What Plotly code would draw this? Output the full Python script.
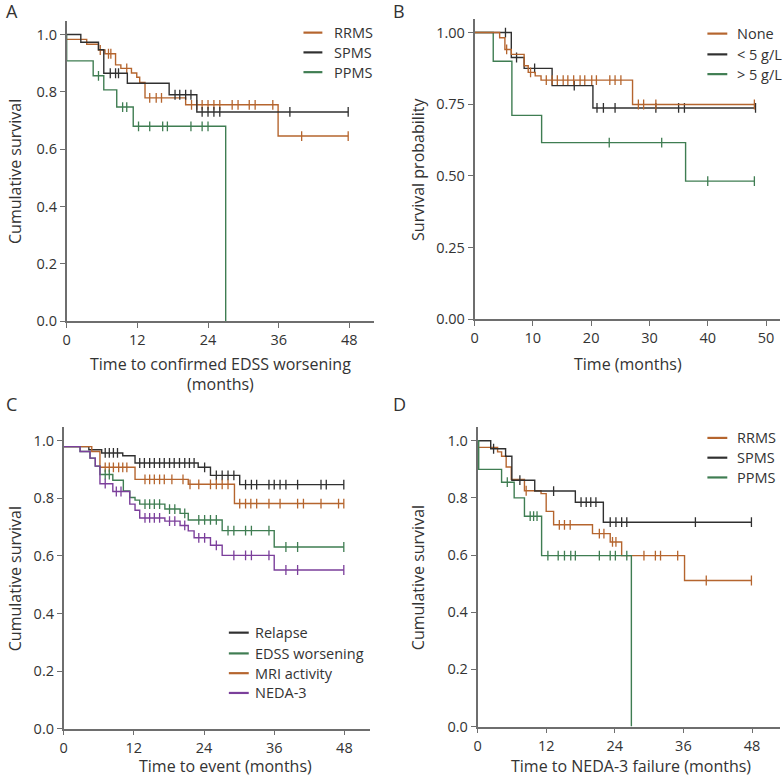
import plotly.graph_objects as go

FONT = "Open Sans"
TXT = "#333333"
AXC = "#6e6e6e"
C_BROWN = "#b5652e"
C_BLACK = "#303030"
C_GREEN = "#3f7d52"
C_PURPLE = "#7b3f9b"

# ---------------- Panel A: time to confirmed EDSS worsening ----------------
A_RRMS_t = [0, 3.4, 5.4, 6.5, 8.3, 9.2, 11.0, 11.9, 12.4, 13.3, 20.2, 35.9]
A_RRMS_s = [0.983, 0.966, 0.946, 0.933, 0.894, 0.882, 0.866, 0.851, 0.833, 0.779, 0.755, 0.646]
A_RRMS_c = [5.7, 7.1, 7.5, 10.2, 14.1, 15.2, 16.1, 21.2, 22.1, 23.0, 24.0, 25.0, 26.0, 28.1, 29.1, 31.0, 32.0, 35.0, 39.9]
A_RRMS_end = 47.8

A_SPMS_t = [0, 2.4, 5.4, 6.3, 10.3, 17.4, 22.1]
A_SPMS_s = [1.0, 0.973, 0.947, 0.865, 0.83, 0.79, 0.73]
A_SPMS_c = [7.4, 8.3, 8.8, 18.4, 19.2, 20.2, 21.1, 23.0, 24.0, 25.0, 26.0, 37.9]
A_SPMS_end = 47.8

A_PPMS_t = [0, 0, 4.5, 6.3, 8.5, 11.3, 27.0]
A_PPMS_s = [1.0, 0.908, 0.856, 0.807, 0.747, 0.68, 0.0]
A_PPMS_c = [5.4, 9.5, 10.2, 12.2, 14.1, 16.3, 17.1, 21.1, 23.0, 24.0]
A_PPMS_end = None

# ---------------- Panel B: IgG groups ----------------
B_NONE_t = [0, 4.3, 5.2, 6.3, 8.5, 9.2, 10.4, 11.4, 27.1]
B_NONE_s = [1.0, 0.982, 0.941, 0.924, 0.884, 0.861, 0.849, 0.834, 0.749]
B_NONE_c = [5.5, 9.6, 12.3, 13.3, 14.2, 15.2, 16.0, 17.0, 18.1, 18.9, 20.1, 20.9, 23.2, 24.1, 25.1, 28.1, 29.0, 31.1]
B_NONE_end = 48.0

B_LT5_t = [0, 6.3, 8.5, 13.3, 20.3]
B_LT5_s = [1.0, 0.913, 0.875, 0.815, 0.737]
B_LT5_c = [5.3, 7.2, 10.3, 17.1, 21.0, 22.1, 24.1, 31.1, 35.0, 36.0]
B_LT5_end = 48.2

B_GT5_t = [0, 3.2, 6.4, 11.5, 36.2]
B_GT5_s = [1.0, 0.90, 0.711, 0.616, 0.482]
B_GT5_c = [23.1, 32.1, 40.0]
B_GT5_end = 48.0

# ---------------- Panel C: time to event ----------------
C_REL_t = [0, 4.3, 6.5, 10.1, 12.2, 23.0, 25.1, 30.1]
C_REL_s = [0.98, 0.969, 0.958, 0.948, 0.923, 0.908, 0.880, 0.848]
C_REL_c = [7.1, 7.8, 8.5, 9.2, 13.0, 13.8, 14.7, 15.5, 16.4, 17.2, 18.1, 18.9, 19.8, 20.7, 21.5, 22.3,
           24.1, 26.1, 27.1, 28.1, 29.1, 31.1, 32.1, 33.0, 35.1, 36.0, 37.0, 38.0, 40.0, 44.0, 44.9]
C_REL_end = 47.9

C_EDSS_t = [0, 2.8, 4.5, 5.4, 6.2, 8.4, 10.2, 11.3, 12.2, 13.0, 17.3, 19.9, 21.3, 27.1, 36.0]
C_EDSS_s = [0.98, 0.963, 0.940, 0.912, 0.883, 0.863, 0.826, 0.803, 0.794, 0.780, 0.763, 0.748, 0.725, 0.688, 0.631]
C_EDSS_c = [7.1, 7.8, 13.9, 14.7, 15.5, 16.4, 18.1, 19.0, 20.7, 23.1, 24.1, 25.1, 26.1,
            28.1, 29.1, 31.1, 32.1, 35.1, 38.0, 40.0]
C_EDSS_end = 47.9

C_MRI_t = [0, 4.8, 6.2, 12.2, 21.3, 29.2]
C_MRI_s = [0.98, 0.963, 0.908, 0.866, 0.849, 0.782]
C_MRI_c = [7.1, 7.8, 8.5, 9.4, 10.1, 10.8, 13.9, 14.7, 15.5, 16.4, 17.2, 18.5, 20.4, 21.6, 23.1, 25.1, 26.1,
           27.1, 28.1, 30.1, 31.1, 32.0, 33.0, 35.1, 37.0, 40.0, 41.0, 44.0, 47.0]
C_MRI_end = 47.9

C_NEDA_t = [0, 2.8, 4.5, 5.4, 6.2, 8.4, 11.3, 12.2, 13.0, 17.3, 19.9, 21.3, 22.3, 25.1, 27.1, 36.0]
C_NEDA_s = [0.98, 0.963, 0.940, 0.912, 0.851, 0.824, 0.780, 0.759, 0.732, 0.721, 0.706, 0.687, 0.663, 0.637, 0.602, 0.551]
C_NEDA_c = [7.1, 9.0, 9.8, 13.9, 14.7, 15.5, 16.4, 18.1, 19.0, 20.7, 23.1, 24.1, 26.1, 29.1, 31.1, 32.1, 35.1, 38.0, 40.0]
C_NEDA_end = 47.9

# ---------------- Panel D: time to NEDA-3 failure ----------------
D_RRMS_t = [0, 3.5, 4.2, 5.0, 5.9, 8.2, 11.1, 12.0, 13.3, 20.1, 23.2, 25.2, 36.2]
D_RRMS_s = [0.977, 0.961, 0.946, 0.908, 0.865, 0.825, 0.815, 0.753, 0.706, 0.675, 0.646, 0.598, 0.511]
D_RRMS_c = [8.5, 14.3, 15.2, 16.2, 21.3, 22.1, 23.6, 24.2, 29.1, 31.1, 32.0, 35.0, 40.0]
D_RRMS_end = 47.9

D_SPMS_t = [0, 2.3, 4.9, 6.0, 10.0, 17.1, 22.0]
D_SPMS_s = [1.0, 0.972, 0.946, 0.862, 0.824, 0.785, 0.715]
D_SPMS_c = [2.8, 7.4, 13.3, 18.1, 19.0, 19.8, 20.7, 23.2, 24.2, 25.2, 26.1, 38.1]
D_SPMS_end = 47.9

D_PPMS_t = [0, 0.2, 4.2, 6.4, 8.2, 11.2, 26.9]
D_PPMS_s = [1.0, 0.900, 0.855, 0.800, 0.736, 0.598, 0.0]
D_PPMS_c = [5.2, 9.2, 9.8, 10.4, 12.3, 14.1, 15.2, 16.3, 17.1, 21.3, 23.2, 24.1, 26.1]
D_PPMS_end = None

W, H = 784, 784


def px(x):
    return x / W


def py(y):
    return 1 - y / H


def surv_at(t_list, s_list, t):
    val = s_list[0]
    for ti, si in zip(t_list, s_list):
        if ti <= t:
            val = si
    return val


fig = go.Figure()


def add_km(t, s, cens, end, color, xa, ya):
    xs = list(t)
    ys = list(s)
    if end is not None:
        xs.append(end)
        ys.append(s[-1])
    fig.add_trace(go.Scatter(x=xs, y=ys, mode="lines", line=dict(color=color, width=1.4, shape="hv"),
                             xaxis=xa, yaxis=ya, showlegend=False, hoverinfo="skip"))
    cx = list(cens) + ([end] if end is not None else [])
    cy = [surv_at(t, s, c) for c in cx]
    fig.add_trace(go.Scatter(x=cx, y=cy, mode="markers",
                             marker=dict(symbol="line-ns", size=7, line=dict(color=color, width=1.3)),
                             xaxis=xa, yaxis=ya, showlegend=False, hoverinfo="skip"))


# Panel A
add_km(A_RRMS_t, A_RRMS_s, A_RRMS_c, A_RRMS_end, C_BROWN, "x", "y")
add_km(A_SPMS_t, A_SPMS_s, A_SPMS_c, A_SPMS_end, C_BLACK, "x", "y")
add_km(A_PPMS_t, A_PPMS_s, A_PPMS_c, A_PPMS_end, C_GREEN, "x", "y")
# Panel B
add_km(B_GT5_t, B_GT5_s, B_GT5_c, B_GT5_end, C_GREEN, "x2", "y2")
add_km(B_LT5_t, B_LT5_s, B_LT5_c, B_LT5_end, C_BLACK, "x2", "y2")
add_km(B_NONE_t, B_NONE_s, B_NONE_c, B_NONE_end, C_BROWN, "x2", "y2")
# Panel C
add_km(C_REL_t, C_REL_s, C_REL_c, C_REL_end, C_BLACK, "x3", "y3")
add_km(C_MRI_t, C_MRI_s, C_MRI_c, C_MRI_end, C_BROWN, "x3", "y3")
add_km(C_EDSS_t, C_EDSS_s, C_EDSS_c, C_EDSS_end, C_GREEN, "x3", "y3")
add_km(C_NEDA_t, C_NEDA_s, C_NEDA_c, C_NEDA_end, C_PURPLE, "x3", "y3")
# Panel D
add_km(D_RRMS_t, D_RRMS_s, D_RRMS_c, D_RRMS_end, C_BROWN, "x4", "y4")
add_km(D_SPMS_t, D_SPMS_s, D_SPMS_c, D_SPMS_end, C_BLACK, "x4", "y4")
add_km(D_PPMS_t, D_PPMS_s, D_PPMS_c, D_PPMS_end, C_GREEN, "x4", "y4")

common = dict(showline=True, linecolor=AXC, linewidth=1.6, ticks="outside", ticklen=5, tickwidth=1.3,
              tickcolor=AXC, showgrid=False, zeroline=False, tickfont=dict(family=FONT, size=14.5, color=TXT),
              fixedrange=True)

y_ticks_02 = [0, 0.2, 0.4, 0.6, 0.8, 1.0]
y_ticks_025 = [0, 0.25, 0.5, 0.75, 1.0]
x_ticks_12 = [0, 12, 24, 36, 48]
x_ticks_10 = [0, 10, 20, 30, 40, 50]

fig.update_layout(
    width=W, height=H, margin=dict(l=0, r=0, t=0, b=0),
    paper_bgcolor="white", plot_bgcolor="white", showlegend=False,
    font=dict(family=FONT, color=TXT),
    xaxis=dict(domain=[px(63), px(372)], range=[0, 52.2], tickvals=x_ticks_12, anchor="y", **common),
    yaxis=dict(domain=[py(325), py(21)], range=[0, 1.048], tickvals=y_ticks_02, tickformat=".1f", anchor="x", **common),
    xaxis2=dict(domain=[px(473), px(780)], range=[0, 52.4], tickvals=x_ticks_10, anchor="y2", **common),
    yaxis2=dict(domain=[py(323), py(19)], range=[0, 1.048], tickvals=y_ticks_025, tickformat=".2f", anchor="x2", **common),
    xaxis3=dict(domain=[px(60), px(368)], range=[0, 52.4], tickvals=x_ticks_12, anchor="y3", **common),
    yaxis3=dict(domain=[py(737), py(432)], range=[0, 1.048], tickvals=y_ticks_02, tickformat=".1f", anchor="x3", **common),
    xaxis4=dict(domain=[px(476), px(780)], range=[0, 52.9], tickvals=x_ticks_12, anchor="y4", **common),
    yaxis4=dict(domain=[py(735), py(432)], range=[0, 1.048], tickvals=y_ticks_02, tickformat=".1f", anchor="x4", **common),
)

ann = []
shapes = []


def text(x, y, s, size=16, angle=0, xanchor="center"):
    ann.append(dict(x=px(x), y=py(y), xref="paper", yref="paper", text=s, showarrow=False,
                    textangle=angle, xanchor=xanchor, yanchor="middle",
                    font=dict(family=FONT, size=size, color=TXT)))


# panel letters
text(8, 11, "A", size=18)
text(397, 11, "B", size=18)
text(8, 409, "C", size=18)
text(398, 409, "D", size=18)

# axis titles
text(218, 368, "Time to confirmed EDSS worsening")
text(218, 388, "(months)")
text(11, 173, "Cumulative survival", angle=-90)
text(627, 368, "Time (months)")
text(416, 171, "Survival probability", angle=-90)
text(223, 775, "Time to event (months)")
text(11, 585, "Cumulative survival", angle=-90)
text(630, 775, "Time to NEDA-3 failure (months)")
text(416, 584, "Cumulative survival", angle=-90)


def legend(items, x0, x1, xt, ys):
    for (lab, col), yy in zip(items, ys):
        shapes.append(dict(type="line", xref="paper", yref="paper", x0=px(x0), x1=px(x1), y0=py(yy), y1=py(yy),
                           line=dict(color=col, width=2.2)))
        text(xt, yy, lab, size=14.5, xanchor="left")


legend([("RRMS", C_BROWN), ("SPMS", C_BLACK), ("PPMS", C_GREEN)], 301, 320, 330, [33, 53, 73])
legend([("None", C_BROWN), ("&lt; 5 g/L", C_BLACK), ("&gt; 5 g/L", C_GREEN)], 707, 727, 735, [34, 55, 75])
legend([("Relapse", C_BLACK), ("EDSS worsening", C_GREEN), ("MRI activity", C_BROWN), ("NEDA-3", C_PURPLE)],
       226, 246, 250, [640, 661, 681, 701])
legend([("RRMS", C_BROWN), ("SPMS", C_BLACK), ("PPMS", C_GREEN)], 707, 727, 735, [443, 463, 483])

fig.update_layout(annotations=ann, shapes=shapes)
fig.write_html("out.html", config={"displayModeBar": False},
               post_script="document.body.style.margin='0px';document.body.style.overflow='hidden';")
